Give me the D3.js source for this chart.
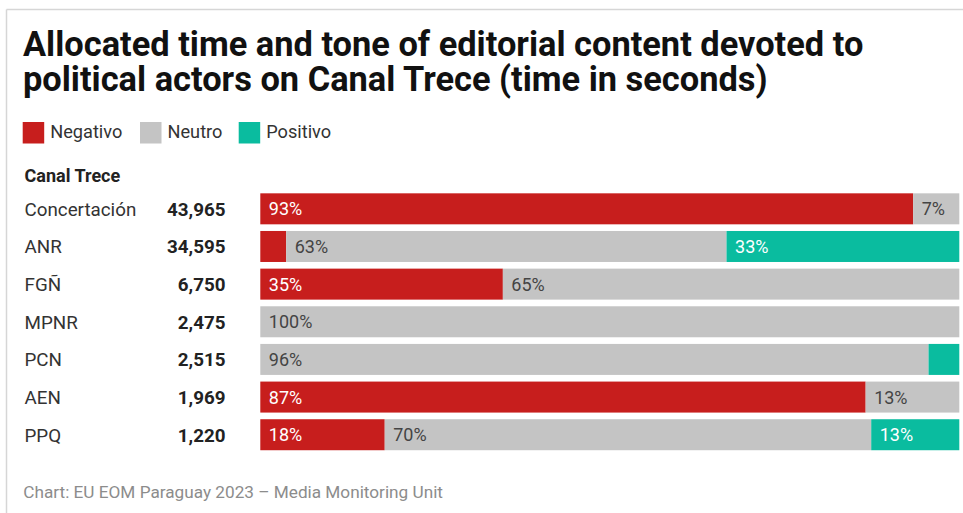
<!DOCTYPE html>
<html>
<head>
<meta charset="utf-8">
<script src="https://cdn.jsdelivr.net/npm/d3@7"></script>
<style>
  html, body { margin: 0; padding: 0; background: #fff; }
  svg { display: block; font-family: Roboto, "Noto Sans", sans-serif; }
</style>
</head>
<body>
<svg id="chart" width="963" height="513"></svg>
<script>
const titleLines = ["Allocated time and tone of editorial content devoted to",
                    "political actors on Canal Trece (time in seconds)"];
const groupLabel = "Canal Trece";
const footer = "Chart: EU EOM Paraguay 2023 – Media Monitoring Unit";
const seriesNames = ["Negativo", "Neutro", "Positivo"];
const seriesColors = ["#c71e1d", "#c4c4c4", "#0abc9f"];
const categories = ["Concertación", "ANR", "FGÑ", "MPNR", "PCN", "AEN", "PPQ"];
const totals = [43965, 34595, 6750, 2475, 2515, 1969, 1220];
const negativo = [93.4, 3.7, 34.7, 0, 0, 86.6, 17.8];
const neutro   = [6.6, 63.0, 65.3, 100, 95.6, 13.4, 69.6];
const positivo = [0, 33.3, 0, 0, 4.4, 0, 12.6];

const svg = d3.select("#chart");

// frame lines
svg.append("line").attr("x1", 6.5).attr("x2", 963).attr("y1", 9.5).attr("y2", 9.5)
  .attr("stroke", "#d6d6d6").attr("stroke-width", 1.5);
svg.append("line").attr("x1", 6.5).attr("x2", 6.5).attr("y1", 9.5).attr("y2", 513)
  .attr("stroke", "#d6d6d6").attr("stroke-width", 1.5);

// title
svg.append("g").selectAll("text").data(titleLines).join("text")
  .attr("x", 23).attr("y", (d, i) => 55.5 + i * 35)
  .attr("font-size", 34.4).attr("font-weight", 700).attr("fill", "#111")
  .text(d => d);

// legend
const legendX = [22.7, 140, 238.7];
const lg = svg.append("g").selectAll("g").data(seriesNames).join("g")
  .attr("transform", (d, i) => `translate(${legendX[i]},122)`);
lg.append("rect").attr("width", 21.5).attr("height", 21.5).attr("fill", (d, i) => seriesColors[i]);
lg.append("text").attr("x", 27.5).attr("y", 16.3).attr("font-size", 18.2).attr("fill", "#333").text(d => d);

// group label
svg.append("text").attr("x", 24.5).attr("y", 181.5).attr("font-size", 18)
  .attr("font-weight", 700).attr("fill", "#222").text(groupLabel);

const step = 37.65;
const y = d3.scaleBand().domain(categories)
  .range([190, 190 + step * categories.length])
  .paddingInner(6.65 / step).paddingOuter(6.65 / 2 / step);
const x = d3.scaleLinear().domain([0, 100]).range([260.3, 959.3]);

const rows = categories.map((c, i) => ({ cat: c, total: totals[i], vals: [negativo[i], neutro[i], positivo[i]] }));

const rowG = svg.append("g").selectAll("g").data(rows).join("g")
  .attr("transform", d => `translate(0,${y(d.cat)})`);

const bw = y.bandwidth();
rowG.append("text").attr("x", 24.5).attr("y", bw / 2 + 7)
  .attr("font-size", 18.8).attr("fill", "#333").text(d => d.cat);
rowG.append("text").attr("x", 225.5).attr("y", bw / 2 + 7).attr("text-anchor", "end")
  .attr("font-size", 18.8).attr("font-weight", 700).attr("fill", "#222")
  .text(d => d3.format(",")(d.total));

const fmt = v => Math.round(v) + "%";
rowG.each(function (d) {
  const g = d3.select(this);
  let acc = 0;
  const segs = d.vals.map((v, k) => { const s = { k, v, start: acc }; acc += v; return s; })
    .filter(s => s.v > 0);
  g.selectAll("rect").data(segs).join("rect")
    .attr("x", s => x(s.start)).attr("y", 0)
    .attr("width", s => x(s.start + s.v) - x(s.start)).attr("height", bw)
    .attr("fill", s => seriesColors[s.k]);
  g.selectAll("text.val").data(segs.filter(s => s.v >= 5)).join("text")
    .attr("class", "val")
    .attr("x", s => x(s.start) + 8.5).attr("y", bw / 2 + 6.5)
    .attr("font-size", 18).attr("fill", s => s.k === 1 ? "#444" : "#fff")
    .text(s => fmt(s.v));
});

// footer
svg.append("text").attr("x", 23.3).attr("y", 498).attr("font-size", 17.2)
  .attr("fill", "#8c8c8c").text(footer);
</script>
</body>
</html>
